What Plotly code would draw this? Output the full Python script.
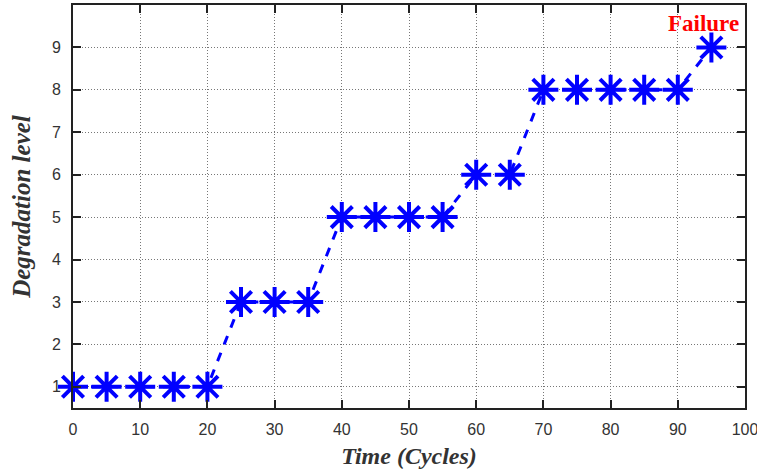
import plotly.graph_objects as go

time_cycles = [0, 5, 10, 15, 20, 25, 30, 35, 40, 45, 50, 55, 60, 65, 70, 75, 80, 85, 90, 95]
degradation = [1, 1, 1, 1, 1, 3, 3, 3, 5, 5, 5, 5, 6, 6, 8, 8, 8, 8, 8, 9]
x_ticks = [0, 10, 20, 30, 40, 50, 60, 70, 80, 90, 100]
y_ticks = [1, 2, 3, 4, 5, 6, 7, 8, 9]

fig = go.Figure()
fig.add_trace(go.Scatter(
    x=time_cycles, y=degradation, mode="lines+markers",
    line=dict(color="#0000ff", width=3, dash="dash"),
    marker=dict(symbol="asterisk-open", size=25, color="#0000ff",
                line=dict(color="#0000ff", width=4)),
    showlegend=False, cliponaxis=False,
))
fig.add_annotation(x=95, y=9, text="<b>Failure</b>", showarrow=False,
                   yshift=24, xshift=-8,
                   font=dict(family="Liberation Serif", size=23, color="#ff0000"))

axis_common = dict(
    showline=True, linecolor="#222222", linewidth=2, mirror="ticks",
    ticks="inside", ticklen=8, tickwidth=2, tickcolor="#222222",
    showgrid=True, gridcolor="#777777", griddash="1px,2px", gridwidth=1,
    zeroline=False, automargin=False, ticklabeloverflow="allow",
    tickfont=dict(family="Liberation Sans", size=16, color="#333333"),
)
fig.update_xaxes(range=[0, 100], tickvals=x_ticks, ticklabelstandoff=6,
                 title=dict(text="<b><i>Time (Cycles)</i></b>",
                            font=dict(family="Liberation Serif", size=24, color="#333333"),
                            standoff=10),
                 **axis_common)
fig.update_yaxes(range=[0.5, 10], tickvals=y_ticks, ticklabelstandoff=7,
                 title=dict(text="<b><i>Degradation level</i></b>",
                            font=dict(family="Liberation Serif", size=25, color="#333333"),
                            standoff=14),
                 **axis_common)
fig.update_layout(
    width=757, height=470,
    margin=dict(l=73, r=12, t=5, b=62),
    plot_bgcolor="white", paper_bgcolor="white",
)
fig.write_html("out.html", config={"displayModeBar": False},
               post_script="document.body.style.margin='0';")
